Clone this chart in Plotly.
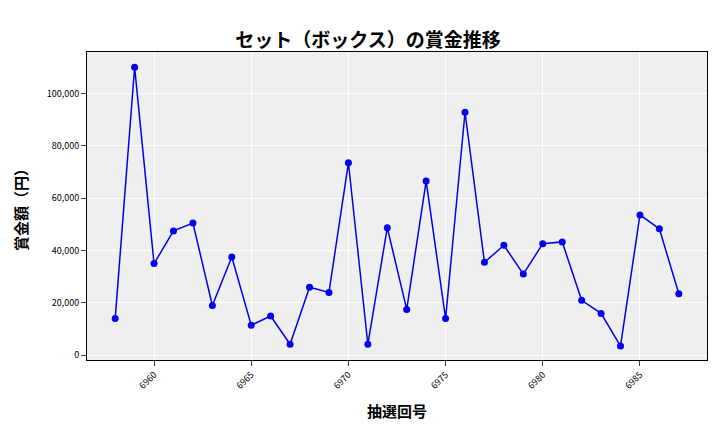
import plotly.graph_objects as go

draws = list(range(6958, 6988))
prizes = [14000,110000,35000,47500,50500,19000,37500,11500,15000,4200,26000,24000,73500,4200,48700,
          17500,66500,14000,92800,35500,42000,31000,42600,43300,21000,16000,3500,53600,48300,23500]

font = "Noto Sans CJK JP"
fig = go.Figure(go.Scatter(x=draws, y=prizes, mode="lines+markers",
                           line=dict(color="#0000ee", width=1.5),
                           marker=dict(color="#0000ee", size=7)))
fig.update_layout(
    width=720, height=432, paper_bgcolor="white", plot_bgcolor="#efefef",
    margin=dict(l=79, r=21, t=44, b=80, autoexpand=False),
    font=dict(family=font, color="black"),
    title=dict(text="<b>セット（ボックス）の賞金推移</b>", x=0.5, xanchor="center", y=0.94, font=dict(size=19)),
    showlegend=False,
)
fig.update_xaxes(title=dict(text="<b>抽選回号</b>", font=dict(size=15)), tickvals=[6960,6965,6970,6975,6980,6985],
                 tickangle=-45, tickfont=dict(size=9), gridcolor="white", showline=True, linecolor="black",
                 mirror=True, ticks="outside", range=[6956.55, 6988.45], zeroline=False)
fig.update_yaxes(title=dict(text="<b>賞金額（円）</b>", font=dict(size=15)), tickformat=",", dtick=20000,
                 tickfont=dict(size=9), gridcolor="white", showline=True, linecolor="black", mirror=True,
                 ticks="outside", range=[-1800, 115800], zeroline=False)
fig.write_html("out.html")
